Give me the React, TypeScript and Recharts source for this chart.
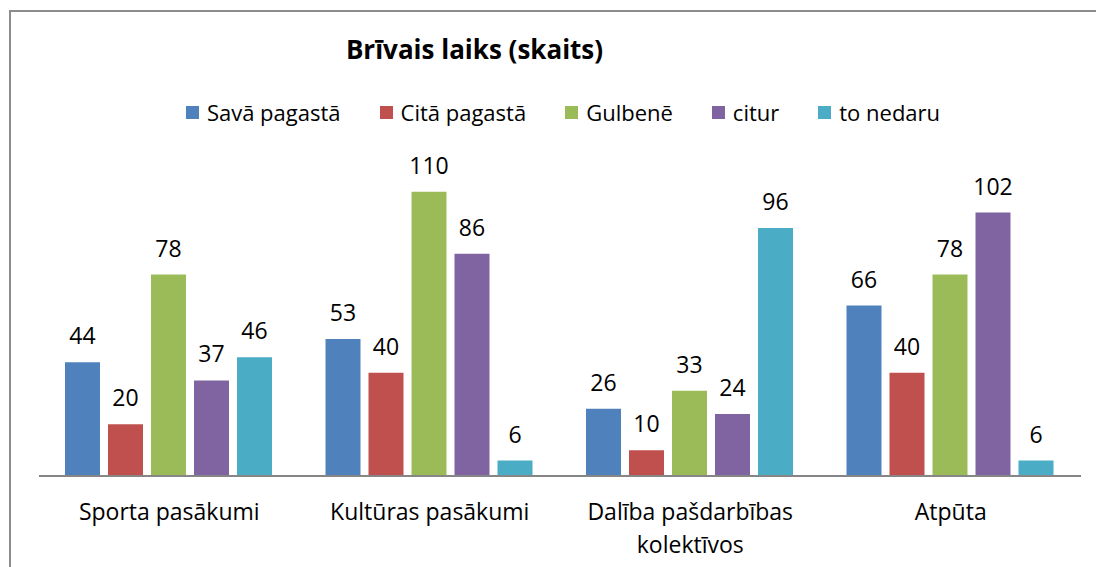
import React from "react"
import { BarChart, Bar, XAxis, YAxis, Legend, LabelList } from "recharts"

const categories = ["Sporta pasākumi", "Kultūras pasākumi", "Dalība pašdarbības kolektīvos", "Atpūta"]
const savaPagasta = [44, 53, 26, 66]
const citaPagasta = [20, 40, 10, 40]
const gulbene = [78, 110, 33, 78]
const citur = [37, 86, 24, 102]
const toNedaru = [46, 6, 96, 6]

const seriesNames = ["Savā pagastā", "Citā pagastā", "Gulbenē", "citur", "to nedaru"]
const seriesKeys = ["s1", "s2", "s3", "s4", "s5"]
const colors = ["#4F81BD", "#C0504D", "#9BBB59", "#8064A2", "#4BACC6"]

const data = categories.map((name, i) => ({
  name,
  s1: savaPagasta[i],
  s2: citaPagasta[i],
  s3: gulbene[i],
  s4: citur[i],
  s5: toNedaru[i],
}))

const FONT = "'Open Sans', sans-serif"

// wrap the long category into two lines like the original
const wrapLabel = (label: string) => {
  if (label === "Dalība pašdarbības kolektīvos") return ["Dalība pašdarbības", "kolektīvos"]
  return [label]
}

const CategoryTick = (props: any) => {
  const { x, y, payload } = props
  const lines = wrapLabel(payload.value)
  return (
    <g transform={`translate(${x},${y})`}>
      {lines.map((line, i) => (
        <text key={i} x={0} y={36 + i * 33} textAnchor="middle" fill="#000" fontSize={23} fontFamily={FONT}>
          {line}
        </text>
      ))}
    </g>
  )
}

const LegendContent = () => (
  <div style={{ display: "flex", justifyContent: "center", fontFamily: FONT, fontSize: 22, color: "#000", lineHeight: "26px" }}>
    {seriesNames.map((n, i) => (
      <div key={n} style={{ display: "flex", alignItems: "center", marginRight: i < seriesNames.length - 1 ? 39 : 0 }}>
        <span style={{ display: "inline-block", width: 13, height: 13, background: colors[i], marginRight: 8 }} />
        <span>{n}</span>
      </div>
    ))}
  </div>
)

export default function App() {
  return (
    <div style={{ position: "absolute", left: 0, top: 0, width: 1096, height: 567, background: "#fff", overflow: "hidden" }}>
      {/* chart frame */}
      <div style={{ position: "absolute", left: 9, top: 10, width: 1100, height: 600, borderLeft: "2px solid #8c8c8c", borderTop: "2px solid #8c8c8c" }} />
      <div style={{ position: "absolute", left: 0, top: 32, width: 949, textAlign: "center", fontFamily: FONT, fontWeight: 700, fontSize: 26, lineHeight: "34px", color: "#000" }}>
        Brīvais laiks (skaits)
      </div>
      <BarChart
        width={1096}
        height={567}
        data={data}
        margin={{ top: 166, right: 15, bottom: 0, left: 39 }}
        barCategoryGap={26}
        barGap={8}
        style={{ position: "absolute", left: 0, top: 0 }}
      >
        <XAxis
          dataKey="name"
          height={91}
          tickLine={false}
          axisLine={{ stroke: "#868686", strokeWidth: 2 }}
          tick={<CategoryTick />}
          interval={0}
        />
        <YAxis hide domain={[0, 120]} />
        <Legend
          verticalAlign="middle"
          align="center"
          content={<LegendContent />}
          wrapperStyle={{ top: 99, left: 15, width: 1096 }}
        />
        {seriesKeys.map((k, i) => (
          <Bar key={k} dataKey={k} name={seriesNames[i]} fill={colors[i]} isAnimationActive={false}>
            <LabelList dataKey={k} position="top" offset={18} fill="#000" fontSize={23} fontFamily={FONT} />
          </Bar>
        ))}
      </BarChart>
    </div>
  )
}
